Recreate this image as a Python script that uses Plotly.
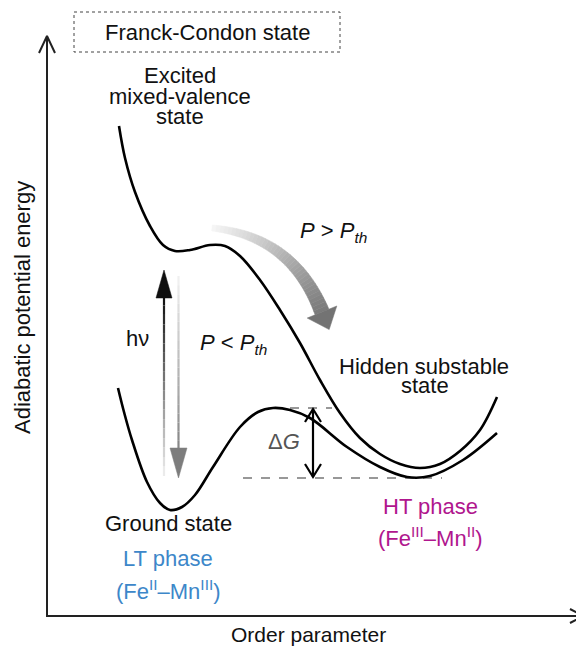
import numpy as np
import plotly.graph_objects as go

# ---- data (schematic curves, in diagram units: x = order parameter, y = energy, pixel-like, y grows downward) ----
upper_x = [119, 125, 135, 150, 163, 175, 190, 210, 225, 240, 260, 280, 300, 320, 340, 360, 380, 400, 420, 440, 460, 480, 497]
upper_y = [126, 158, 192, 226, 245, 251, 250, 245, 246, 256, 280, 310, 343, 380, 413, 438, 454, 464, 468, 464, 451, 430, 397]
lower_x = [118, 124, 132, 147, 160, 170, 182, 195, 213, 240, 258, 273, 290, 310, 347, 380, 407, 430, 463, 497]
lower_y = [388, 412, 440, 482, 503, 510, 507, 495, 467, 427, 412, 408, 410, 418, 447, 467, 477, 476, 460, 433]

level_barrier = 408
level_ht = 478

# stacked (tightly spaced) labels
labels_stacked = [
    ("Excited", 180, 75),
    ("mixed-valence", 180, 96),
    ("state", 180, 116),
    ("Hidden substable", 424, 366),
    ("state", 425, 385),
]
labels_black = [
    ("Franck-Condon state", 207, 32),
    ("Ground state", 168, 523),
    ("hν", 137, 338),
    ("<i>P</i> > <i>P</i><sub><i>th</i></sub>", 333, 232),
    ("<i>P</i> < <i>P</i><sub><i>th</i></sub>", 233, 344),
]
labels_lt = [("LT phase", 168, 558), ("(Fe<sup>II</sup>–Mn<sup>III</sup>)", 168, 590)]
labels_ht = [("HT phase", 430, 506), ("(Fe<sup>III</sup>–Mn<sup>II</sup>)", 430, 537)]

FONT = "Liberation Sans, Arial, sans-serif"
FS = 22

fig = go.Figure()

def seg_gradient(xs, ys, widths, c0, c1):
    n = len(xs) - 1
    for i in range(n):
        t = i / max(n - 1, 1)
        g = int(c0 + (c1 - c0) * t)
        col = f"rgb({g},{g},{g})"
        fig.add_trace(go.Scatter(x=[xs[i], xs[i + 1]], y=[ys[i], ys[i + 1]], mode="lines",
                                 line=dict(color=col, width=widths[i]), hoverinfo="skip", showlegend=False))

# curved gradient arrow (P > Pth)
p0 = np.array([212.0, 228.0]); p1 = np.array([292.0, 236.0]); p2 = np.array([322.0, 312.0])
ts = np.linspace(0, 1, 40)
pts = np.array([(1 - t) ** 2 * p0 + 2 * (1 - t) * t * p1 + t ** 2 * p2 for t in ts])
nrm = []
for i in range(len(ts) - 1):
    d = pts[i + 1] - pts[i]
    d = d / np.linalg.norm(d)
    nrm.append(np.array([-d[1], d[0]]))
nrm.append(nrm[-1])
w = 3 + 4.5 * ts
for i in range(len(ts) - 1):
    a = pts[i] + nrm[i] * w[i]; b = pts[i + 1] + nrm[i + 1] * w[i + 1]
    c = pts[i + 1] - nrm[i + 1] * w[i + 1]; dd = pts[i] - nrm[i] * w[i]
    g = int(245 - (245 - 120) * ts[i])
    col = f"rgb({g},{g},{g})"
    fig.add_trace(go.Scatter(x=[a[0], b[0], c[0], dd[0], a[0]], y=[a[1], b[1], c[1], dd[1], a[1]],
                             mode="lines", fill="toself", fillcolor=col, line=dict(color=col, width=0.5),
                             hoverinfo="skip", showlegend=False))
# head
dvec = pts[-1] - pts[-2]; dvec /= np.linalg.norm(dvec)
nv = np.array([-dvec[1], dvec[0]])
base = pts[-1]
tip = base + dvec * 19
hl = base + nv * 16; hr = base - nv * 16
fig.add_trace(go.Scatter(x=[hl[0], tip[0], hr[0], hl[0]], y=[hl[1], tip[1], hr[1], hl[1]], mode="lines",
                         fill="toself", fillcolor="rgb(115,115,115)", line=dict(color="rgb(115,115,115)", width=0.5),
                         hoverinfo="skip", showlegend=False))

# h-nu up arrow (black, fading at bottom)
ys_up = np.linspace(476, 296, 20)
seg_gradient([164] * 20, list(ys_up), [2.2] * 19, 235, 20)
fig.add_trace(go.Scatter(x=[156, 164, 172, 156], y=[298, 270, 298, 298], mode="lines", fill="toself",
                         fillcolor="rgb(15,15,15)", line=dict(color="rgb(15,15,15)", width=0.5),
                         hoverinfo="skip", showlegend=False))
# gray down arrow (fading at top)
ys_dn = np.linspace(276, 450, 20)
seg_gradient([178.5] * 20, list(ys_dn), [2.2] * 19, 240, 135)
fig.add_trace(go.Scatter(x=[170, 178.5, 187, 170], y=[448, 478, 448, 448], mode="lines", fill="toself",
                         fillcolor="rgb(125,125,125)", line=dict(color="rgb(125,125,125)", width=0.5),
                         hoverinfo="skip", showlegend=False))

# dashed levels
fig.add_trace(go.Scatter(x=[272, 332], y=[level_barrier, level_barrier], mode="lines",
                         line=dict(color="#777", width=1.5, dash="dash"), hoverinfo="skip", showlegend=False))
fig.add_trace(go.Scatter(x=[243, 442], y=[level_ht, level_ht], mode="lines",
                         line=dict(color="#777", width=1.5, dash="dash"), hoverinfo="skip", showlegend=False))

# potential curves
fig.add_trace(go.Scatter(x=upper_x, y=upper_y, mode="lines", line=dict(color="black", width=2.6, shape="spline"),
                         hoverinfo="skip", showlegend=False))
fig.add_trace(go.Scatter(x=lower_x, y=lower_y, mode="lines", line=dict(color="black", width=2.6, shape="spline"),
                         hoverinfo="skip", showlegend=False))

# Delta G double arrow
fig.add_trace(go.Scatter(x=[313, 313], y=[level_barrier + 1, level_ht - 1], mode="lines",
                         line=dict(color="black", width=2.2), hoverinfo="skip", showlegend=False))
fig.add_trace(go.Scatter(x=[305, 313, 321], y=[422, level_barrier + 1, 422], mode="lines",
                         line=dict(color="black", width=2.2), hoverinfo="skip", showlegend=False))
fig.add_trace(go.Scatter(x=[305, 313, 321], y=[464, level_ht - 1, 464], mode="lines",
                         line=dict(color="black", width=2.2), hoverinfo="skip", showlegend=False))

# axes with open arrowheads
fig.add_trace(go.Scatter(x=[47, 47, 583], y=[36, 616, 616], mode="lines",
                         line=dict(color="#222", width=2), hoverinfo="skip", showlegend=False))
fig.add_trace(go.Scatter(x=[39, 47, 55], y=[53, 36, 53], mode="lines",
                         line=dict(color="#222", width=2), hoverinfo="skip", showlegend=False))
fig.add_trace(go.Scatter(x=[570, 583, 570], y=[609, 616, 623], mode="lines",
                         line=dict(color="#222", width=2), hoverinfo="skip", showlegend=False))

# dotted box
fig.add_shape(type="rect", x0=74, x1=340, y0=12, y1=52, xref="x", yref="y",
              line=dict(color="#444", width=1, dash="dot"), fillcolor="rgba(0,0,0,0)")

for t, x, y in labels_stacked:
    fig.add_annotation(x=x, y=y, text=t, showarrow=False, xref="x", yref="y", height=19, borderpad=0,
                       font=dict(family=FONT, size=FS, color="#111"))
for t, x, y in labels_black:
    fig.add_annotation(x=x, y=y, text=t, showarrow=False, xref="x", yref="y",
                       font=dict(family=FONT, size=FS, color="#111"))
fig.add_annotation(x=308, y=634, text="Order parameter", showarrow=False, xref="x", yref="y",
                   font=dict(family=FONT, size=21, color="#111"))
for t, x, y in labels_lt:
    fig.add_annotation(x=x, y=y, text=t, showarrow=False, xref="x", yref="y",
                       font=dict(family=FONT, size=FS, color="#3d87c9"))
for t, x, y in labels_ht:
    fig.add_annotation(x=x, y=y, text=t, showarrow=False, xref="x", yref="y",
                       font=dict(family=FONT, size=FS, color="#b0168e"))
fig.add_annotation(x=284, y=441, text="Δ<i>G</i>", showarrow=False, xref="x", yref="y",
                   font=dict(family=FONT, size=FS, color="#555"))
fig.add_annotation(x=22, y=308, text="Adiabatic potential energy", textangle=-90, showarrow=False,
                   xref="x", yref="y", font=dict(family=FONT, size=FS, color="#111"))

# the page body has an 8px margin, so the figure is placed at (8, 8) in the window
OFF = 8
fig.update_layout(
    width=584, height=647, margin=dict(l=0, r=0, t=0, b=0),
    paper_bgcolor="white", plot_bgcolor="white", showlegend=False,
    xaxis=dict(range=[OFF, 584 + OFF], visible=False, fixedrange=True),
    yaxis=dict(range=[647 + OFF, OFF], visible=False, fixedrange=True),
)
fig.write_html("out.html")
